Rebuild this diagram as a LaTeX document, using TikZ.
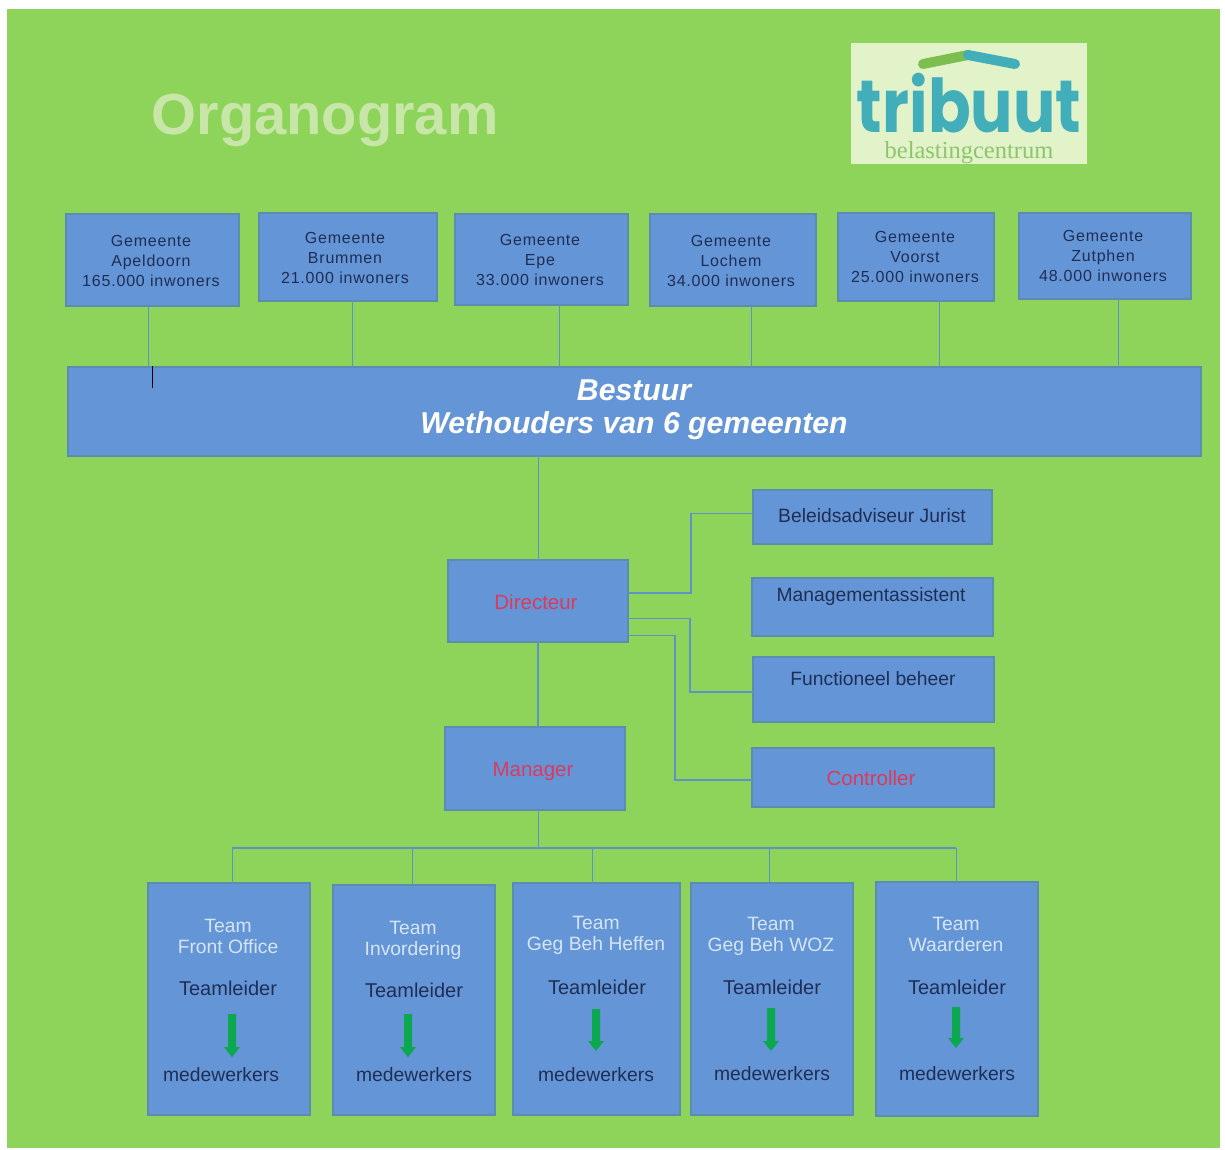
\documentclass[tikz,border=0pt]{standalone}
\usepackage{fontspec}
\setmainfont{Liberation Sans}
\newfontfamily\logofont{Poppins}
\newfontfamily\logoserif{Liberation Serif}
\usetikzlibrary{calc}
\definecolor{bggreen}{HTML}{8FD45A}
\definecolor{boxblue}{HTML}{6495D6}
\definecolor{edgeblue}{HTML}{5A8DB0}
\definecolor{linkblue}{HTML}{5F93C8}
\definecolor{darktxt}{HTML}{1F2E55}
\definecolor{paletxt}{HTML}{D6E5F6}
\definecolor{redtxt}{HTML}{DC3A5C}
\definecolor{arrowgreen}{HTML}{0BA850}
\definecolor{teallogo}{HTML}{41AEB9}
\definecolor{logobg}{HTML}{E2F3C9}
\definecolor{logogreen}{HTML}{8CC56B}
\definecolor{titlegreen}{HTML}{C8E6A8}
\definecolor{roofgreen}{HTML}{7CBF4E}
\newcommand{\fsz}[1]{\fontsize{#1}{#1}\selectfont}
\tikzset{
  x=1pt,y=-1pt,
  boxnode/.style={draw=edgeblue,line width=1.6pt,fill=boxblue,inner sep=0pt,outer sep=0pt,anchor=north west},
  gemtxt/.style={text=darktxt,align=center,inner sep=0pt,font=\fontsize{16}{20}\selectfont\addfontfeature{LetterSpace=5}},
  darkt/.style={text=darktxt,inner sep=0pt,font=\fsz{19.3}},
  leadt/.style={text=darktxt,inner sep=0pt,font=\fsz{20}},
  palet/.style={text=paletxt,inner sep=0pt,font=\fsz{19.3},text height=14pt,text depth=4pt},
  redt/.style={text=redtxt,inner sep=0pt,font=\fsz{20.5}},
  thin link/.style={draw=linkblue,line width=0.9pt},
  thick link/.style={draw=linkblue,line width=2.6pt},
  bus link/.style={draw=linkblue,line width=2.2pt},
  blockarrow/.style={fill=arrowgreen,draw=none},
}
% name, left, top, right, bottom (outer edges of the border)
\newcommand{\bx}[5]{\node[boxnode,minimum width=#4-#2-1.6,minimum height=#5-#3-1.6] (#1) at (#2+0.8,#3+0.8) {};}
% x, top, bottom
\newcommand{\garrow}[3]{\fill[blockarrow] (#1-4,#2) -- (#1+4,#2) -- (#1+4,#3-10) -- (#1+8,#3-10) -- (#1,#3) -- (#1-8,#3-10) -- (#1-4,#3-10) -- cycle;}
\newcommand{\teamtxt}[8]{%
  \node[palet] (#1a) at (#2,#3) {Team};
  \node[palet] (#1b) at (#2,#3+21) {#4};
  \node[leadt] (#1c) at (#5,#6) {Teamleider};
  \node[darkt] (#1d) at (#7,#8) {medewerkers};
}
\begin{document}
\begin{tikzpicture}
\useasboundingbox (0,0) rectangle (1225,1150);
\fill[white] (0,0) rectangle (1225,1150);
\fill[bggreen] (7,9) rectangle (1220,1148);

% title
\node[text=titlegreen,inner sep=0pt,font=\fsz{57.8}\bfseries] (title) at (325,120) {Organogram};

% logo
\fill[logobg] (851,43) rectangle (1087,164);
\draw[line width=10pt,line cap=round,color=roofgreen] (923,64) -- (968,55);
\draw[line width=10pt,line cap=round,color=teallogo] (968,55) -- (1015,64);
\node[text=teallogo,inner sep=0pt,xscale=0.85,font=\logofont\fsz{74}\bfseries] (tribuut) at (969,103) {tribuut};
\node[text=logogreen,inner sep=0pt,font=\logoserif\fsz{24.5}] (belasting) at (969,153) {belastingcentrum};

% boxes
\bx{g1}{65}{213}{240}{307}
\bx{g2}{258}{212}{438}{302}
\bx{g3}{454}{213}{629}{306}
\bx{g4}{649}{213}{817}{307}
\bx{g5}{837}{212}{995}{302}
\bx{g6}{1018}{212}{1192}{300}
\bx{bestuur}{67}{366}{1202}{457}
\bx{directeur}{447}{559}{629}{643}
\bx{manager}{444}{726}{626}{811}
\bx{jurist}{752}{489}{993}{545}
\bx{mgmt}{751}{577}{994}{637}
\bx{func}{752}{656}{995}{723}
\bx{controller}{751}{747}{995}{808}
\bx{t1}{147}{882}{311}{1116}
\bx{t2}{332}{884}{496}{1116}
\bx{t3}{512}{882}{681}{1116}
\bx{t4}{690}{882}{854}{1116}
\bx{t5}{875}{881}{1039}{1117}

% municipality texts
\node[gemtxt] (g1t) at (151,261) {Gemeente\\Apeldoorn\\165.000 inwoners};
\node[gemtxt] (g2t) at (345,257.5) {Gemeente\\Brummen\\21.000 inwoners};
\node[gemtxt] (g3t) at (540,260) {Gemeente\\Epe\\33.000 inwoners};
\node[gemtxt] (g4t) at (731,261) {Gemeente\\Lochem\\34.000 inwoners};
\node[gemtxt] (g5t) at (915,257) {Gemeente\\Voorst\\25.000 inwoners};
\node[gemtxt] (g6t) at (1103,256) {Gemeente\\Zutphen\\48.000 inwoners};

% board text
\node[text=white,align=center,inner sep=0pt,font=\fsz{30.2}\bfseries\itshape] (bt) at (634,410) {Bestuur\\[3pt]Wethouders van 6 gemeenten};

% staff and management texts
\node[redt] (dt) at (536,602) {Directeur};
\node[redt] (mt) at (533,772) {Manager};
\node[darkt] (jt) at (872,516) {Beleidsadviseur Jurist};
\node[darkt] (at) at (871,597) {Managementassistent};
\node[darkt] (ft) at (873,679) {Functioneel beheer};
\node[redt] (ct) at (871,778) {Controller};

% team texts
\teamtxt{a}{228}{927}{Front Office}{228}{988}{221}{1075}
\teamtxt{b}{413}{929}{Invordering}{414}{990}{414}{1075}
\teamtxt{c}{596}{924}{Geg Beh Heffen}{597}{987}{596}{1075}
\teamtxt{d}{771}{925}{Geg Beh WOZ}{772}{987}{772}{1074}
\teamtxt{e}{956}{925}{Waarderen}{957}{987}{957}{1074}

% block arrows
\garrow{232}{1014}{1057}
\garrow{408}{1014}{1057}
\garrow{596}{1009}{1051}
\garrow{771}{1008}{1051}
\garrow{956}{1007}{1048}

% connectors
\foreach \n/\xx in {g1/148,g2/352,g3/559,g4/751,g5/939,g6/1118}
  \draw[thin link] (\n.south -| \xx,0) -- (bestuur.north -| \xx,0);
\draw[thin link] (bestuur.south -| 538,0) -- (directeur.north -| 538,0);
\draw[thin link,line width=1.4pt] (directeur.south -| 538,0) -- (manager.north -| 538,0);
\coordinate (bus) at (538,848);
\draw[thin link] (manager.south -| bus) -- (bus);
\coordinate (busl) at (232,848);
\coordinate (busr) at (956,848);
\draw[bus link] (busl) -- (busr);
\draw[thin link] (busl) -- (t1.north -| busl);
\foreach \n/\xx in {t2/412,t3/592,t4/769,t5/956}
  \draw[thin link] (\xx,848) -- (\n.north -| \xx,0);

\draw[thick link] (directeur.east |- 0,593) -- (691,593) -- (691,513);
\draw[thin link] (691,513) -- (jurist.west |- 0,513);
\draw[thin link] (directeur.east |- 0,618) -- (690,618);
\draw[thick link] (690,618) -- (690,692) -- (func.west |- 0,692);
\draw[thin link] (directeur.east |- 0,635) -- (675,635);
\draw[thick link] (675,635) -- (675,780) -- (controller.west |- 0,780);

% text cursor
\draw[black,line width=1pt] (152,366) -- (152,388);
\end{tikzpicture}
\end{document}
